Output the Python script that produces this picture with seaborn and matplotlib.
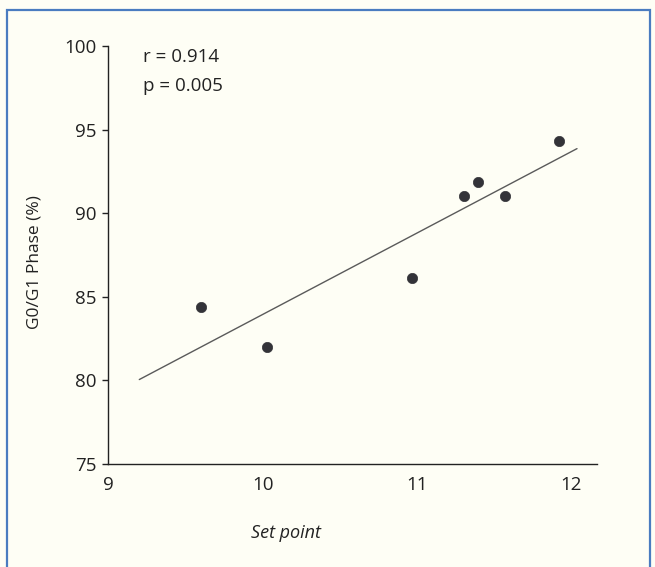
import numpy as np
import pandas as pd
import seaborn as sns
import matplotlib.pyplot as plt
from matplotlib.patches import Rectangle

# values
set_point = [9.60, 10.03, 10.97, 11.31, 11.40, 11.57, 11.92]
g0g1_phase = [84.4, 82.0, 86.1, 91.0, 91.85, 91.0, 94.3]
x_ticks = [9, 10, 11, 12]
y_ticks = [75, 80, 85, 90, 95, 100]
r_text = "r = 0.914"
p_text = "p = 0.005"
fit_range = (9.2, 12.04)  # span of the drawn regression line

df = pd.DataFrame({"Set point": set_point, "G0/G1 Phase (%)": g0g1_phase})

sns.set_style("ticks")
plt.rcParams["font.family"] = ["Open Sans", "DejaVu Sans"]

bg = "#fefef5"
fig = plt.figure(figsize=(6.55, 5.67), dpi=100, facecolor=bg)
ax = fig.add_axes([0.1656, 0.1817, 0.7459, 0.7372], facecolor=bg)

# regression line over the drawn span (truncate=False uses current xlim)
ax.set_xlim(*fit_range)
sns.regplot(data=df, x="Set point", y="G0/G1 Phase (%)", ax=ax, ci=None,
            truncate=False, scatter=False,
            line_kws={"color": "#5a5a5a", "lw": 1.0})
sns.scatterplot(data=df, x="Set point", y="G0/G1 Phase (%)", ax=ax,
                color="#333338", s=55, edgecolor="#333338", linewidth=0.5,
                zorder=3)

ax.set_xlim(9, 12.17)
ax.set_ylim(75, 100)
ax.set_xticks(x_ticks)
ax.set_yticks(y_ticks)
ax.tick_params(axis="x", length=0, pad=9, labelsize=13.5, colors="#222222")
ax.tick_params(axis="y", length=4.3, width=1.0, pad=4.3, labelsize=13.5,
               colors="#222222")
sns.despine(ax=ax)
for side in ["left", "bottom"]:
    ax.spines[side].set_color("#222222")
    ax.spines[side].set_linewidth(1.0)

ax.set_xlabel("Set point", fontsize=13, style="italic", color="#222222")
ax.xaxis.set_label_coords(0.363, -0.143)
ax.set_ylabel("G0/G1 Phase (%)", fontsize=12.5, color="#222222")
ax.yaxis.set_label_coords(-0.136, 0.483)

ax.text(0.0706, 0.961, r_text, transform=ax.transAxes, fontsize=13.5,
        va="baseline", ha="left", color="#222222")
ax.text(0.0706, 0.892, p_text, transform=ax.transAxes, fontsize=13.5,
        va="baseline", ha="left", color="#222222")

# blue frame around the panel (bottom edge falls outside the image)
fig.add_artist(Rectangle((0.0107, -0.02), 0.9817, 1.0024, transform=fig.transFigure,
                         fill=False, edgecolor="#4a7cc0", linewidth=1.6))

fig.savefig("out.png", dpi=100, facecolor=bg)
